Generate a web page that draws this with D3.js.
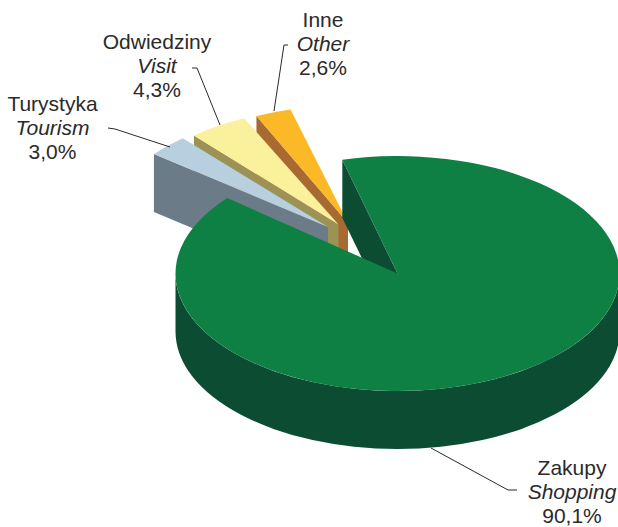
<!DOCTYPE html>
<html lang="en">
<head>
  <meta charset="UTF-8">
  <title>Pie</title>
  <style>
    html, body { margin: 0; padding: 0; background: #fff; }
    svg { display: block; }
    text { font-family: "Liberation Sans", Arial, sans-serif; font-size: 21px; fill: #2b2a29; text-anchor: middle; }
    .en { font-style: italic; }
  </style>
</head>
<body>
  <svg id="svg" width="618" height="527"></svg>
  <script src="https://d3js.org/d3.v7.min.js"></script>
  <script>
    const namesPl = ['Zakupy', 'Turystyka', 'Odwiedziny', 'Inne']
    const namesEn = ['Shopping', 'Tourism', 'Visit', 'Other']
    const values = [90.1, 3.0, 4.3, 2.6]

    const topColors = ['#0f8044', '#b7cfdf', '#fbf09b', '#fbb827']
    const wallColors = ['#0c4c33', '#6b7b88', '#9c9255', '#a86a30']

    const rad = d => d * Math.PI / 180
    const radius = 222
    const squash = 0.529
    const depth = 58 / squash // in unsquashed units

    // where each slice's tip sits on the page, main one first
    const tips = [[397.5, 273.5], [328, 227], [338.5, 224.5], [348, 223]]
    // small hand correction of the pulled out slices (deg)
    const nudge = [0, -1.6, -1.4, -0.6]

    const pie = d3.pie().sort(null).startAngle(rad(-14.4)).endAngle(rad(345.6))
    const arc = d3.arc().innerRadius(0).outerRadius(radius)
    const slices = pie(values).map((s, i) => ({
      ...s,
      index: i,
      startAngle: s.startAngle + rad(nudge[i]),
      endAngle: s.endAngle + rad(nudge[i])
    }))

    const svg = d3.select('#svg')
    const place = i => `translate(${tips[i][0]},${tips[i][1]}) scale(1,${squash})`

    // wall under the radial edge at a given angle
    function edgeWall(angle) {
      const x = radius * Math.sin(angle)
      const y = -radius * Math.cos(angle)
      const p = d3.path()
      p.moveTo(0, 0)
      p.lineTo(x, y)
      p.lineTo(x, y + depth)
      p.lineTo(0, depth)
      p.closePath()
      return p.toString()
    }

    // rim along the front half of the big slice
    function frontRim() {
      const p = d3.path()
      p.arc(0, 0, radius, 0, Math.PI)
      p.lineTo(-radius, depth)
      p.arc(0, depth, radius, Math.PI, 0, true)
      p.closePath()
      return p.toString()
    }

    // back to front: Inne, Odwiedziny, Turystyka, then Zakupy
    ;[3, 2, 1].forEach(i => {
      const g = svg.append('g').attr('transform', place(i))
      g.append('path').attr('d', edgeWall(slices[i].startAngle)).attr('fill', wallColors[i])
      g.append('path').attr('d', arc(slices[i])).attr('fill', topColors[i])
    })

    const main = svg.append('g').attr('transform', place(0))
    main.append('path').attr('d', edgeWall(slices[0].startAngle)).attr('fill', wallColors[0])
    main.append('path').attr('d', frontRim()).attr('fill', wallColors[0])
    main.append('path').attr('d', arc(slices[0])).attr('fill', topColors[0])

    // leader lines
    const leaders = [
      [[431, 448], [508, 490], [517, 490]],
      [[170, 147], [115, 129], [108, 128]],
      [[220, 125], [197, 68], [192, 68]],
      [[274, 111], [284, 45], [288, 45]]
    ]
    const line = d3.line()
    svg.selectAll('.leader')
      .data(leaders)
      .enter()
      .append('path')
      .attr('class', 'leader')
      .attr('d', d => line(d))
      .attr('fill', 'none')
      .attr('stroke', '#2b2a29')
      .attr('stroke-width', 1)

    // labels
    const labelX = [572, 52.5, 157, 323]
    const labelY = [475, 111, 49, 27]
    const lineGap = 24
    values.forEach((v, i) => {
      const t = svg.append('text').attr('transform', `translate(${labelX[i]},${labelY[i]})`)
      t.append('tspan').attr('x', 0).attr('y', 0).text(namesPl[i])
      t.append('tspan').attr('class', 'en').attr('x', 0).attr('y', lineGap).text(namesEn[i])
      t.append('tspan').attr('x', 0).attr('y', lineGap * 2).text(d3.format('.1f')(v).replace('.', ',') + '%')
    })
  </script>
</body>
</html>
